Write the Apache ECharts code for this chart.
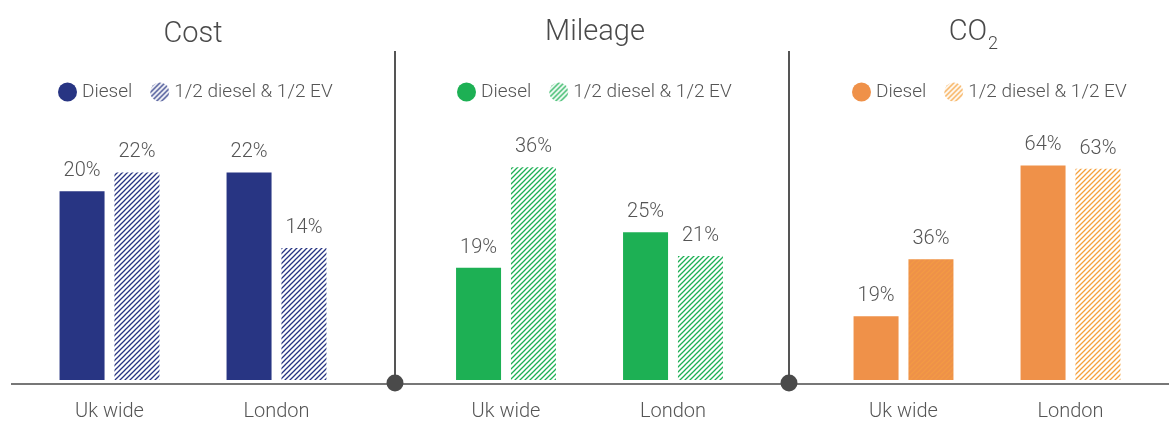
<!DOCTYPE html>
<html>
<head>
<meta charset="utf-8">
<script src="https://cdn.jsdelivr.net/npm/echarts@6/dist/echarts.min.js"></script>
<style>
html,body{margin:0;padding:0;background:#fff;}
#chart{width:1169px;height:422px;}
</style>
</head>
<body>
<div id="chart"></div>
<script>
// ---- data ----
const categories = ['Uk wide', 'London'];
const panelTitles = ['Cost', 'Mileage', 'CO'];
const seriesNames = ['Diesel', '1/2 diesel & 1/2 EV'];
const costDiesel = [20, 22];
const costHalf = [22, 14];
const mileageDiesel = [19, 25];
const mileageHalf = [36, 21];
const co2Diesel = [19, 64];
const co2Half = [36, 63];

const FONT = 'Roboto, "Open Sans", sans-serif';
const TXT = '#555555';

function hatch(lineColor, bgColor) {
  const s = 5;
  const c = document.createElement('canvas');
  c.width = s; c.height = s;
  const g = c.getContext('2d');
  if (bgColor) { g.fillStyle = bgColor; g.fillRect(0, 0, s, s); }
  g.strokeStyle = lineColor;
  g.lineWidth = 1.3;
  g.beginPath();
  g.moveTo(-1, s + 1); g.lineTo(s + 1, -1);
  g.moveTo(-1, 1); g.lineTo(1, -1);
  g.moveTo(s - 1, s + 1); g.lineTo(s + 1, s - 1);
  g.stroke();
  return { image: c, repeat: 'repeat' };
}

const panels = [
  { diesel: costDiesel, half: costHalf, color: '#283583', hatchC: hatch('#283583'), max: 29.68, left: 26, legendLeft: 58 },
  { diesel: mileageDiesel, half: mileageHalf, color: '#1DB054', hatchC: hatch('#1DB054'), max: 47.4, left: 422.5, legendLeft: 457 },
  { diesel: co2Diesel, half: co2Half, color: '#EF9149', hatchC: hatch('#F5A13D'), max: 83.5, left: 820, legendLeft: 852 }
];
const co2UkHatch = hatch('#F29A44', '#EE9149');

const grids = [], xAxes = [], yAxes = [], series = [], legends = [];
panels.forEach((p, i) => {
  grids.push({ left: p.left, width: 334, top: 100, bottom: 38 });
  xAxes.push({
    type: 'category', gridIndex: i, data: categories,
    axisLine: { show: false }, axisTick: { show: false },
    axisLabel: { color: TXT, fontSize: 20, fontFamily: FONT, fontWeight: 300, margin: 22 }
  });
  yAxes.push({ type: 'value', gridIndex: i, min: 0, max: p.max, show: false, splitLine: { show: false } });
  const label = { show: true, position: 'top', distance: 10, color: TXT, fontSize: 20, fontFamily: FONT, fontWeight: 300, formatter: '{c}%' };
  const n1 = seriesNames[0] + '|' + i, n2 = seriesNames[1] + '|' + i;
  series.push({
    name: n1, type: 'bar', xAxisIndex: i, yAxisIndex: i, data: p.diesel,
    barWidth: 45, barGap: '22%', itemStyle: { color: p.color }, label: label, silent: true
  });
  const halfData = p.half.map((v, k) => (i === 2 && k === 0) ? { value: v, itemStyle: { color: co2UkHatch } } : v);
  series.push({
    name: n2, type: 'bar', xAxisIndex: i, yAxisIndex: i, data: halfData,
    barWidth: 45, barGap: '22%', itemStyle: { color: p.hatchC }, label: label, silent: true
  });
  legends.push({
    left: p.legendLeft, top: 82.5, padding: 0, itemWidth: 19, itemHeight: 19, itemGap: 18, itemTextGap: 2,
    icon: 'circle', selectedMode: false,
    data: [n1, n2],
    formatter: name => name.split('|')[0],
    textStyle: { color: TXT, fontSize: 19, fontFamily: FONT, fontWeight: 300 }
  });
});

const titleStyle = { fill: '#4a4a4a', font: '300 29px ' + FONT, align: 'center', verticalAlign: 'middle' };
const graphic = [
  { type: 'text', x: 193, y: 35, style: Object.assign({}, titleStyle, { text: panelTitles[0] }) },
  { type: 'text', x: 595, y: 33, style: Object.assign({}, titleStyle, { text: panelTitles[1] }) },
  { type: 'text', x: 968, y: 33, style: Object.assign({}, titleStyle, { text: panelTitles[2] }) },
  { type: 'text', x: 993, y: 44, style: Object.assign({}, titleStyle, { text: '2', font: '300 18px ' + FONT }) },
  { type: 'line', shape: { x1: 11, y1: 384, x2: 1169, y2: 384 }, style: { stroke: '#777', lineWidth: 2 } },
  { type: 'line', shape: { x1: 395, y1: 51, x2: 395, y2: 384 }, style: { stroke: '#555', lineWidth: 2 } },
  { type: 'line', shape: { x1: 789, y1: 51, x2: 789, y2: 384 }, style: { stroke: '#555', lineWidth: 2 } },
  { type: 'circle', shape: { cx: 395, cy: 383, r: 8.5 }, style: { fill: '#4a4a4a' } },
  { type: 'circle', shape: { cx: 789, cy: 383, r: 8.5 }, style: { fill: '#4a4a4a' } }
];

const chart = echarts.init(document.getElementById('chart'), null, { renderer: 'canvas' });
chart.setOption({
  animation: false,
  backgroundColor: '#fff',
  grid: grids, xAxis: xAxes, yAxis: yAxes, series: series, legend: legends, graphic: graphic
});
</script>
</body>
</html>
